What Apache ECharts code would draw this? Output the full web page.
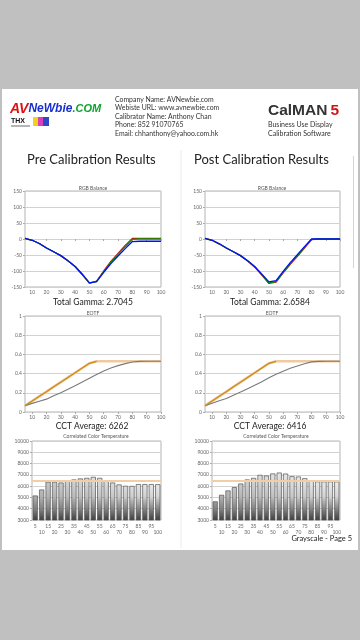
<!DOCTYPE html>
<html><head><meta charset="utf-8">
<script src="https://cdn.jsdelivr.net/npm/echarts@6/dist/echarts.min.js"></script>
<style>html,body{margin:0;padding:0;background:#c0c0c0;}#c{width:360px;height:640px;}</style>
</head><body><div id="c"></div>
<script>
const xPoints = [5,10,15,20,25,30,35,40,45,50,55,60,65,70,75,80,85,90,95,100];
const xTickValues = [10,20,30,40,50,60,70,80,90,100];

const preRed   = [2,-4,-14,-28,-40,-52,-68,-86,-111,-138,-132,-100,-70,-45,-20,2,2,2,2,2];
const preGreen = [2,-4,-14,-28,-40,-52,-68,-86,-111,-138,-133,-102,-73,-48,-24,-1,0,0,0,0];
const preBlue  = [2,-4,-14,-28,-40,-52,-68,-86,-110,-137,-133,-104,-77,-53,-30,-8,-7,-7,-7,-7];

const postRed   = [2,-4,-15,-28,-40,-52,-69,-88,-113,-139,-135,-106,-79,-54,-28,-2,0,0,0,0];
const postGreen = [2,-4,-15,-28,-40,-52,-68,-87,-111,-137,-133,-104,-77,-52,-26,-1,0,0,0,0];
const postBlue  = [2,-4,-15,-28,-40,-52,-68,-86,-110,-134,-130,-101,-74,-49,-24,0,0,0,0,0];

const preEotfTarget   = [0.066,0.114,0.163,0.212,0.262,0.311,0.360,0.409,0.458,0.507,0.528,0.528,0.528,0.528,0.528,0.528,0.528,0.528,0.528,0.528];
const preEotfMeasured = [0.066,0.090,0.112,0.134,0.168,0.201,0.238,0.274,0.312,0.351,0.390,0.427,0.458,0.483,0.504,0.521,0.527,0.528,0.528,0.528];
const postEotfTarget   = [0.066,0.114,0.163,0.212,0.262,0.311,0.360,0.409,0.458,0.507,0.528,0.528,0.528,0.528,0.528,0.528,0.528,0.528,0.528,0.528];
const postEotfMeasured = [0.066,0.092,0.118,0.140,0.175,0.208,0.243,0.278,0.316,0.356,0.392,0.424,0.455,0.480,0.503,0.522,0.527,0.528,0.528,0.528];

const cctCategories = ['5','10','15','20','25','30','35','40','45','50','55','60','65','70','75','80','85','90','95','100'];
const preCct  = [5170,5700,6380,6380,6320,6530,6590,6680,6730,6820,6730,6500,6320,6150,6030,6020,6180,6180,6180,6170];
const postCct = [4650,5230,5620,5910,6230,6590,6730,7000,6940,7120,7200,7110,6880,6850,6700,6500,6410,6410,6410,6410];
const cctTarget = 6504;

const headerLines = ['Company Name: AVNewbie.com','Webiste URL: www.avnewbie.com','Calibrator Name: Anthony Chan','Phone: 852 91070765','Email: chhanthony@yahoo.com.hk'];
const preGammaText = 'Total Gamma: 2.7045';
const postGammaText = 'Total Gamma: 2.6584';
const preCctText = 'CCT Average: 6262';
const postCctText = 'CCT Average: 6416';

const FONT = 'Lato, "Open Sans", sans-serif';
const chart = echarts.init(document.getElementById('c'), null, {renderer:'canvas'});

const grids = [
  {left:25, top:191, width:136, height:96},
  {left:205, top:191, width:135, height:96},
  {left:25, top:316, width:136, height:96},
  {left:205, top:316, width:135, height:96},
  {left:32, top:441, width:129, height:79},
  {left:212, top:441, width:128, height:79}
].map(g => Object.assign({show:true, borderColor:'#b4b4b4', borderWidth:1, backgroundColor:'#fff', containLabel:false}, g));

const lbl = {fontSize:5, color:'#666', fontFamily:FONT};
function valX(i){
  return {type:'value', gridIndex:i, min:5, max:100,
    splitLine:{show:false}, axisLine:{show:false},
    axisTick:{show:true, length:2, customValues:xTickValues, lineStyle:{color:'#aaa'}},
    axisLabel:Object.assign({customValues:xTickValues, margin:3}, lbl)};
}
function catX(i){
  return {type:'category', gridIndex:i, data:cctCategories, boundaryGap:true,
    axisLine:{show:false}, axisTick:{show:false},
    axisLabel:Object.assign({interval:0, margin:3, lineHeight:6,
      formatter:(v, idx) => (idx % 2 ? '\n' + v : v)}, lbl)};
}
function valY(i, min, max, interval){
  return {type:'value', gridIndex:i, min:min, max:max, interval:interval,
    splitLine:{lineStyle:{color:'#d2d2d2', width:1}},
    axisLine:{show:false}, axisTick:{show:true, length:2, lineStyle:{color:'#aaa'}},
    axisLabel:Object.assign({margin:3, formatter:(v) => String(v)}, lbl)};
}

function pairs(arr){ return xPoints.map((x,i) => [x, arr[i]]); }
function line(idx, arr, color, width, z){
  return {type:'line', xAxisIndex:idx, yAxisIndex:idx, data:pairs(arr), symbol:'none',
    lineStyle:{color:color, width:width}, z:z||2, animation:false, silent:true};
}
function rising(arr){ // part of the target curve before it levels off
  const top = arr[arr.length-1];
  const out = [];
  for (let i=0;i<arr.length;i++){ out.push([xPoints[i], arr[i]]); if (arr[i] >= top) break; }
  return out;
}
function eotfSeries(idx, target, measured){
  return [
    line(idx, target, '#efc9a0', 2.6, 2),
    {type:'line', xAxisIndex:idx, yAxisIndex:idx, data:rising(target), symbol:'none',
      lineStyle:{color:'#cc8a10', width:1.2}, z:4, animation:false, silent:true},
    line(idx, measured, '#7a7a7a', 1.1, 3)
  ];
}
function barColor(p){
  const t = p.dataIndex / 19;
  const g = (a,b) => { const v = Math.round(a + (b-a)*t); return 'rgb('+v+','+v+','+v+')'; };
  return new echarts.graphic.LinearGradient(0, 441, 0, 520, [
    {offset:0, color:g(218,250)},
    {offset:0.45, color:g(205,245)},
    {offset:0.7, color:g(175,215)},
    {offset:0.88, color:'#7a7a7a'},
    {offset:1, color:'#404040'}
  ], true);
}
function cctSeries(idx, arr){
  return {type:'bar', xAxisIndex:idx, yAxisIndex:idx, data:arr, barCategoryGap:'20%',
    itemStyle:{color:barColor, borderColor:'#555', borderWidth:0.7}, animation:false, silent:true,
    markLine:{silent:true, symbol:'none', label:{show:false},
      lineStyle:{color:'#f0cfa6', width:2, type:'solid'}, data:[{yAxis:cctTarget}]}};
}

function txt(x, y, text, size, opts){
  return {type:'text', x:x, y:y, silent:true, z:10,
    style:Object.assign({text:text, fontSize:size, fontFamily:FONT, fill:'#222', align:'left', verticalAlign:'middle'}, opts||{})};
}

const LOGOFONT = '"Liberation Sans", Arial';
const graphics = [
  {type:'rect', z:-10, silent:true, shape:{x:2, y:89, width:356, height:461}, style:{fill:'#fff'}},
  {type:'line', z:-5, silent:true, shape:{x1:181, y1:150, x2:181, y2:548}, style:{stroke:'#ececec', lineWidth:1}},
  {type:'line', z:-5, silent:true, shape:{x1:353.5, y1:156, x2:353.5, y2:268}, style:{stroke:'#d4d4d4', lineWidth:1}},
  {type:'text', x:10, y:109, silent:true, z:10, style:{
    text:'{r|AV}{b|NeWbie}{g|.COM}', verticalAlign:'middle',
    rich:{
      r:{fill:'#e01010', fontSize:14, fontWeight:'bold', fontStyle:'italic', fontFamily:LOGOFONT},
      b:{fill:'#1830d0', fontSize:12, fontWeight:'bold', fontStyle:'italic', fontFamily:LOGOFONT},
      g:{fill:'#10a030', fontSize:11, fontWeight:'bold', fontStyle:'italic', fontFamily:LOGOFONT}
    }}},
  txt(11, 121.5, 'THX', 7, {fontWeight:'bold', fontFamily:LOGOFONT, fill:'#111'}),
  {type:'line', silent:true, shape:{x1:11, y1:126, x2:30, y2:126}, style:{stroke:'#444', lineWidth:0.8}},
  {type:'rect', silent:true, shape:{x:33, y:117, width:5, height:9}, style:{fill:'#f0d020'}},
  {type:'rect', silent:true, shape:{x:38, y:117, width:5, height:9}, style:{fill:'#d840b8'}},
  {type:'rect', silent:true, shape:{x:43, y:117, width:6, height:9}, style:{fill:'#3048c8'}},
  {type:'text', x:268, y:111, silent:true, z:10, style:{
    text:'{a|CalMAN}{b|5}', verticalAlign:'middle',
    rich:{
      a:{fill:'#333', fontSize:15.5, fontWeight:'bold', fontFamily:LOGOFONT},
      b:{fill:'#c81818', fontSize:15.5, fontWeight:'bold', fontFamily:LOGOFONT, padding:[0,0,0,3]}
    }}},
  txt(268, 124.8, 'Business Use Display', 7, {fill:'#333'}),
  txt(268, 133.3, 'Calibration Software', 7, {fill:'#333'}),
  txt(27, 160, 'Pre Calibration Results', 13, {fill:'#222'}),
  txt(194, 160, 'Post Calibration Results', 13, {fill:'#222'}),
  txt(93, 188, 'RGB Balance', 5, {align:'center', fill:'#555'}),
  txt(272, 188, 'RGB Balance', 5, {align:'center', fill:'#555'}),
  txt(93, 313, 'EOTF', 5, {align:'center', fill:'#555'}),
  txt(272, 313, 'EOTF', 5, {align:'center', fill:'#555'}),
  txt(96, 436.5, 'Correlated Color Temperature', 5, {align:'center', fill:'#555'}),
  txt(276, 436.5, 'Correlated Color Temperature', 5, {align:'center', fill:'#555'}),
  txt(93, 302, preGammaText, 8.5, {align:'center'}),
  txt(270, 302, postGammaText, 8.5, {align:'center'}),
  txt(92, 426.5, preCctText, 8.5, {align:'center'}),
  txt(270, 426.5, postCctText, 8.5, {align:'center'}),
  txt(352, 539, 'Grayscale - Page 5', 7.5, {align:'right'})
];
headerLines.forEach((t,i) => graphics.push(txt(115, 99.5 + i*8.5, t, 6.9, {fill:'#333'})));

const option = {
  backgroundColor:'#c0c0c0',
  animation:false,
  grid:grids,
  xAxis:[valX(0), valX(1), valX(2), valX(3), catX(4), catX(5)],
  yAxis:[valY(0,-150,150,50), valY(1,-150,150,50), valY(2,0,1,0.2), valY(3,0,1,0.2), valY(4,3000,10000,1000), valY(5,3000,10000,1000)],
  series:[
    line(0, preRed, '#e00000', 1.3, 2), line(0, preGreen, '#00a000', 1.3, 3), line(0, preBlue, '#0010ff', 1.3, 4),
    line(1, postRed, '#e00000', 1.3, 2), line(1, postGreen, '#00a000', 1.3, 3), line(1, postBlue, '#0010ff', 1.3, 4),
    ...eotfSeries(2, preEotfTarget, preEotfMeasured),
    ...eotfSeries(3, postEotfTarget, postEotfMeasured),
    cctSeries(4, preCct), cctSeries(5, postCct)
  ],
  graphic:{elements:graphics}
};
chart.setOption(option);
</script></body></html>
